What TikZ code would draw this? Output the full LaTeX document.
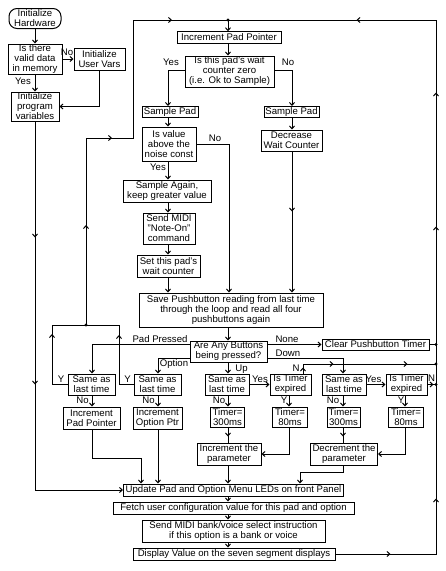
\documentclass[tikz,border=0pt]{standalone}
\usepackage{fontspec}
\setmainfont{Liberation Sans}
\usetikzlibrary{arrows.meta,decorations.markings}
\begin{document}
\begin{tikzpicture}[x=1pt,y=-1pt,line width=1pt,
  >={Straight Barb[length=2.8pt,width=5pt]},
  every node/.style={font=\fontsize{9.6}{10}\selectfont},
  bx/.style 2 args={draw,align=center,inner sep=0pt,minimum width=#1,minimum height=#2},
  lbl/.style={inner sep=0pt,text height=7pt,text depth=2pt},
  mk/.style={postaction={decorate,decoration={markings,mark=at position #1 with {\arrow{>}}}}}]

\fill[white] (0,0) rectangle (446,571);
\useasboundingbox (0,0) rectangle (446,571);

% coordinates
\coordinate (J1) at (86,325);
\coordinate (L1) at (52,325);
\coordinate (L2) at (119,325);
\coordinate (C1) at (86,138);
\coordinate (C2) at (133,138);
\coordinate (C3) at (133,20);
\coordinate (J2) at (228,20);
\coordinate (R1) at (436,20);
\coordinate (colL) at (168,70);
\coordinate (colR) at (292,70);
\coordinate (colN) at (229,144);
\coordinate (PP) at (92,344.5);
\coordinate (OP) at (158,358);
\coordinate (DN) at (343,358);
\coordinate (nup) at (303,364);
\coordinate (TA) at (289,454);
\coordinate (TB) at (405,454);
\coordinate (K1) at (141,458);
\coordinate (K2) at (300,472);

% nodes
\node[bx={52pt}{20pt},rounded corners=8pt] (hw) at (35,18.5) {Initialize\\Hardware};
\node[bx={54pt}{30pt}] (valid) at (35,59) {Is there\\valid data\\in memory};
\node[bx={51pt}{22pt}] (uvars) at (99.5,59) {Initialize\\User Vars};
\node[bx={48pt}{29pt}] (pvars) at (35,106.5) {Initialize\\program\\variables};

\node[bx={104pt}{11.5pt}] (incpad) at (229,37.5) {Increment Pad Pointer};
\node[bx={89pt}{31pt}] (zero) at (229.5,71.5) {Is this pad's wait\\counter zero\\(i.e. Ok to Sample)};
\node[bx={56pt}{11pt}] (samp1) at (170,112) {Sample Pad};
\node[bx={55pt}{11pt}] (samp2) at (291.5,112) {Sample Pad};
\node[bx={54pt}{34pt}] (noise) at (169,144) {Is value\\above the\\noise const};
\node[bx={88pt}{22pt}] (again) at (167,191) {Sample Again,\\keep greater value};
\node[bx={52pt}{31pt}] (note) at (169,228.5) {Send MIDI\\"Note-On"\\command};
\node[bx={63pt}{22pt}] (setw) at (168.5,266) {Set this pad's\\wait counter};
\node[bx={61pt}{21pt}] (decr) at (291.5,140.5) {Decrease\\Wait Counter};
\node[bx={184pt}{34pt}] (save) at (231,310) {Save Pushbutton reading from last time\\through the loop and read all four\\pushbuttons again};
\node[bx={77pt}{21pt}] (any) at (228.5,351.5) {Are Any Buttons\\being pressed?};
\node[bx={107pt}{11pt}] (clear) at (375.5,344.5) {Clear Pushbutton Timer};

\node[bx={47pt}{21pt}] (same1) at (91.5,384.5) {Same as\\last time};
\node[bx={47pt}{21pt}] (same2) at (157.5,384.5) {Same as\\last time};
\node[bx={44pt}{21pt}] (same3) at (227,384.5) {Same as\\last time};
\node[bx={41pt}{21pt}] (timer1) at (290.5,384.5) {Is Timer\\expired};
\node[bx={44pt}{21pt}] (same4) at (344,384.5) {Same as\\last time};
\node[bx={41pt}{21pt}] (timer2) at (406.5,384.5) {Is Timer\\expired};

\node[bx={57pt}{22pt}] (incpad2) at (91.5,418) {Increment\\Pad Pointer};
\node[bx={49pt}{22pt}] (incopt) at (157.5,418) {Increment\\Option Ptr};
\node[bx={34pt}{20pt}] (t300a) at (227.5,417) {Timer=\\300ms};
\node[bx={35pt}{20pt}] (t80a) at (290,417) {Timer=\\80ms};
\node[bx={33pt}{20pt}] (t300b) at (343.5,417) {Timer=\\300ms};
\node[bx={35pt}{20pt}] (t80b) at (406,417) {Timer=\\80ms};

\node[bx={64pt}{22pt}] (incparam) at (229,454) {Increment the\\parameter};
\node[bx={67pt}{22pt}] (decparam) at (344,454) {Decrement the\\parameter};

\node[bx={220pt}{12pt}] (update) at (233.5,490) {Update Pad and Option Menu LEDs on front Panel};
\node[bx={241pt}{12pt}] (fetch) at (233.5,508) {Fetch user configuration value for this pad and option};
\node[bx={183pt}{22pt}] (send) at (233.5,531) {Send MIDI bank/voice select instruction\\if this option is a bank or voice};
\node[bx={202pt}{12pt}] (display) at (234,554) {Display Value on the seven segment displays};

% labels
\node[lbl] (l1) at (67,53) {No};
\node[lbl] (l2) at (23,82) {Yes};
\node[lbl] (l3) at (171,63) {Yes};
\node[lbl] (l4) at (288,63) {No};
\node[lbl] (l5) at (215,139) {No};
\node[lbl] (l6) at (158,168) {Yes};
\node[lbl] (l7) at (160,339.5) {Pad Pressed};
\node[lbl] (l8) at (174,364) {Option};
\node[lbl] (l9) at (287,340) {None};
\node[lbl] (l10) at (288,353.5) {Down};
\node[lbl] (l11) at (241.5,369) {Up};
\node[lbl] (l12) at (296,369) {N};
\node[lbl] (l13) at (61,380) {Y};
\node[lbl] (l14) at (127.5,380) {Y};
\node[lbl] (l15) at (82.5,400.5) {No};
\node[lbl] (l16) at (148.5,400.5) {No};
\node[lbl] (l17) at (260,380) {Yes};
\node[lbl] (l18) at (219,400.5) {No};
\node[lbl] (l19) at (284,400.5) {Y};
\node[lbl] (l20) at (333,400.5) {No};
\node[lbl] (l21) at (373.5,380) {Yes};
\node[lbl] (l22) at (401,400.5) {Y};
\node[lbl] (l23) at (431.5,378.5) {N};

% connectors: init
\draw[->] (hw) -- (valid);
\draw[->] (valid) -- (uvars);
\draw[->] (valid) -- (pvars);
\draw[->] (uvars.south) |- (pvars.east);
\draw[->,mk=116pt,mk=263pt] (pvars.south) |- (update.west);

% main loop returns
\draw[mk=66pt] (same1.west) -| (L1) -- (J1);
\draw[mk=64pt] (same2.west) -| (L2) -- (J1);
\draw[mk=100pt,mk=213pt,mk=391pt] (J1) -- (C1) -- (C2) -- (C3) -- (J2);
\draw[mk=55pt,mk=156pt,mk=428pt,mk=562pt,mk=714pt] (display.east) -- (display.east -| R1) -- (R1) -- (J2);
\draw[->] (J2) -- (J2 |- incpad.north);
\fill (J1) circle (1.6);
\fill (J2) circle (1.6);

% pad sampling
\draw[->] (J2 |- incpad.south) -- (J2 |- zero.north);
\draw[->] (zero.west |- colL) -- (colL) -- (colL |- samp1.north);
\draw[->] (colL |- samp1.south) -- (colL |- noise.north);
\draw[->] (colL |- noise.south) -- (colL |- again.north);
\draw[->] (colL |- again.south) -- (colL |- note.north);
\draw[->] (colL |- note.south) -- (colL |- setw.north);
\draw[->] (colL |- setw.south) -- (colL |- save.north);
\draw[->] (zero.east |- colR) -- (colR) -- (colR |- samp2.north);
\draw[->] (colR |- samp2.south) -- (colR |- decr.north);
\draw[->,mk=60pt] (colR |- decr.south) -- (colR |- save.north);
\draw[->] (noise.east |- colN) -- (colN) -- (colN |- save.north);

% buttons
\draw[->] (J2 |- save.south) -- (J2 |- any.north);
\draw[->] (PP -| any.west) -- (PP) -- (PP |- same1.north);
\draw[->] (OP -| any.west) -- (OP) -- (OP |- same2.north);
\draw[->] (clear.west -| any.east) -- (clear.west);
\draw[->] (DN -| any.east) -- (DN) -- (DN |- same4.north);
\draw[->] (J2 |- any.south) -- (J2 |- same3.north);
\draw (clear.east) -- (clear.east -| R1);
\draw[mk=6pt,mk=40pt,mk=114pt] (nup |- timer1.north) -- (nup) -- (nup -| R1);
\draw[mk=6pt] (timer2.east) -- (timer2.east -| R1);
\fill (clear.east -| R1) circle (1.6);
\fill (nup -| R1) circle (1.6);
\fill (timer2.east -| R1) circle (1.6);

\draw[->] (PP |- same1.south) -- (PP |- incpad2.north);
\draw[->] (OP |- same2.south) -- (OP |- incopt.north);
\draw[->] (J2 |- same3.south) -- (J2 |- t300a.north);
\draw[->] (same3) -- (timer1);
\draw[->] (TA |- timer1.south) -- (TA |- t80a.north);
\draw[->] (DN |- same4.south) -- (DN |- t300b.north);
\draw[->] (same4) -- (timer2);
\draw[->] (TB |- timer2.south) -- (TB |- t80b.north);

\draw[->] (PP |- incpad2.south) |- (K1) -- (K1 |- update.north);
\draw[->] (OP |- incopt.south) -- (OP |- update.north);
\draw[mk=9pt] (J2 |- t300a.south) -- (J2 |- incparam.north);
\draw[->] (TA |- t80a.south) -- (TA) -- (TA -| incparam.east);
\draw[->] (J2 |- incparam.south) -- (J2 |- update.north);
\draw[mk=9pt] (DN |- t300b.south) -- (DN |- decparam.north);
\draw[->] (TB |- t80b.south) -- (TB) -- (TB -| decparam.east);
\draw[->] (DN |- decparam.south) |- (K2) -- (K2 |- update.north);

\draw[->] (J2 |- update.south) -- (J2 |- fetch.north);
\draw[->] (J2 |- fetch.south) -- (J2 |- send.north);
\draw[->] (J2 |- send.south) -- (J2 |- display.north);
\end{tikzpicture}
\end{document}
